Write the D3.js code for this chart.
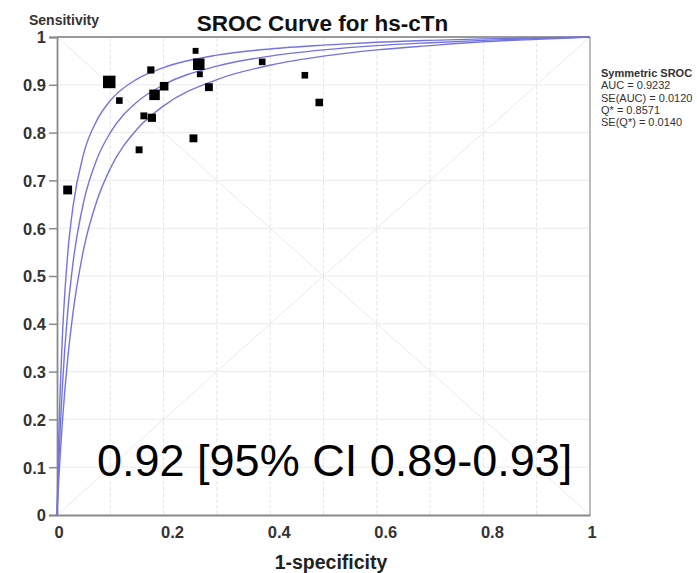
<!DOCTYPE html>
<html>
<head>
<meta charset="utf-8">
<script src="https://cdn.jsdelivr.net/npm/d3@7"></script>
<style>
  html, body { margin: 0; padding: 0; background: #fff; }
  svg { display: block; font-family: "Liberation Sans", Arial, sans-serif; }
</style>
</head>
<body>
<svg id="chart" width="697" height="573"></svg>
<script>
// ---------- data ----------
const title = "SROC Curve for hs-cTn";
const yTitle = "Sensitivity";
const xTitle = "1-specificity";
const annotation = "0.92 [95% CI 0.89-0.93]";
const legendTitle = "Symmetric SROC";
const legendLines = ["AUC = 0.9232", "SE(AUC) = 0.0120", "Q* = 0.8571", "SE(Q*) = 0.0140"];

const xTicks = [0, 0.2, 0.4, 0.6, 0.8, 1];
const yTicks = [0, 0.1, 0.2, 0.3, 0.4, 0.5, 0.6, 0.7, 0.8, 0.9, 1];
const gridValues = [0.1, 0.2, 0.3, 0.4, 0.5, 0.6, 0.7, 0.8, 0.9];

// study points: 1-specificity, sensitivity, weight
const studyFpr  = [0.020, 0.098, 0.117, 0.176, 0.154, 0.163, 0.178, 0.183, 0.201, 0.260, 0.266, 0.268, 0.285, 0.256, 0.385, 0.465, 0.492];
const studySens = [0.680, 0.906, 0.867, 0.931, 0.764, 0.835, 0.831, 0.879, 0.897, 0.971, 0.943, 0.922, 0.895, 0.788, 0.948, 0.920, 0.863];
const studyWeight = [81, 161, 45, 53, 49, 49, 69, 114, 76, 36, 137, 36, 64, 64, 45, 45, 59];

// SROC curve (centre) and its two bounds
const curveFpr   = [0, 0.001, 0.003, 0.006, 0.01, 0.02, 0.03, 0.05, 0.075, 0.1, 0.15, 0.2, 0.3, 0.4, 0.5, 0.6, 0.7, 0.8, 0.9, 1];
const curveUpper = [0, 0.056, 0.150, 0.262, 0.372, 0.545, 0.645, 0.756, 0.826, 0.867, 0.912, 0.936, 0.962, 0.975, 0.983, 0.989, 0.993, 0.996, 0.998, 1];
const curveMid   = [0, 0.035, 0.098, 0.179, 0.267, 0.424, 0.527, 0.655, 0.745, 0.800, 0.864, 0.900, 0.939, 0.960, 0.973, 0.982, 0.988, 0.993, 0.997, 1];
const curveLower = [0, 0.023, 0.067, 0.125, 0.193, 0.326, 0.423, 0.556, 0.658, 0.725, 0.807, 0.856, 0.911, 0.941, 0.960, 0.973, 0.982, 0.990, 0.995, 1];

// ---------- layout ----------
const svg = d3.select("#chart");
const L = 57, R = 590, T = 37, B = 515;
const x = d3.scaleLinear().domain([0, 1]).range([L, R]);
const y = d3.scaleLinear().domain([0, 1]).range([B, T]);
const size = d3.scaleSqrt().domain([0, d3.max(studyWeight)]).range([0, 12.5]);

// grid
const grid = svg.append("g");
grid.selectAll("line.h").data(gridValues).join("line")
  .attr("x1", L).attr("x2", R)
  .attr("y1", d => y(d)).attr("y2", d => y(d))
  .attr("stroke", "#ebebeb").attr("stroke-width", 1);
grid.selectAll("line.v").data(gridValues).join("line")
  .attr("y1", T).attr("y2", B)
  .attr("x1", d => x(d)).attr("x2", d => x(d))
  .attr("stroke", "#e6e6e6").attr("stroke-width", 1)
  .attr("stroke-dasharray", "4,2");
// diagonals
grid.append("line").attr("x1", x(0)).attr("y1", y(1)).attr("x2", x(1)).attr("y2", y(0))
  .attr("stroke", "#eaeaea").attr("stroke-width", 1);
grid.append("line").attr("x1", x(0)).attr("y1", y(0)).attr("x2", x(1)).attr("y2", y(1))
  .attr("stroke", "#eaeaea").attr("stroke-width", 1);

// frame top/right
svg.append("line").attr("x1", L).attr("x2", R).attr("y1", T).attr("y2", T)
  .attr("stroke", "#9a9a9a").attr("stroke-width", 1.8);
svg.append("line").attr("x1", R).attr("x2", R).attr("y1", T).attr("y2", B)
  .attr("stroke", "#a8a8a8").attr("stroke-width", 1.5);

// axes
const yAxis = svg.append("g").attr("transform", `translate(${L},0)`)
  .call(d3.axisLeft(y).tickValues(yTicks).tickFormat(d3.format("~g")).tickSize(8).tickPadding(3));
const xAxis = svg.append("g").attr("transform", `translate(0,${B})`)
  .call(d3.axisBottom(x).tickValues(xTicks).tickFormat(d3.format("~g")).tickSize(0).tickPadding(11));
[yAxis, xAxis].forEach(a => {
  a.select(".domain").attr("stroke", "#8a8a8a").attr("stroke-width", 1.8);
  a.selectAll(".tick line").attr("stroke", "#8a8a8a").attr("stroke-width", 1.5);
  a.selectAll(".tick text").attr("fill", "#333").attr("font-size", 16.5)
    .attr("font-weight", "bold").attr("font-family", "Liberation Sans, Arial, sans-serif");
});
yAxis.selectAll(".tick text").attr("dy", "0.36em");
xAxis.selectAll(".tick text").attr("text-anchor", "start").attr("dx", -3).attr("dy", "0.72em");

// curves
const line = d3.line().x(d => x(d[0])).y(d => y(d[1])).curve(d3.curveMonotoneX);
[curveUpper, curveMid, curveLower].forEach(c => {
  svg.append("path")
    .datum(curveFpr.map((f, i) => [f, c[i]]))
    .attr("d", line)
    .attr("fill", "none")
    .attr("stroke", "#7474e0")
    .attr("stroke-width", 1.4);
});

// points
svg.append("g").selectAll("rect").data(studyFpr.map((f, i) => ({f, s: studySens[i], w: studyWeight[i]})))
  .join("rect")
  .attr("x", d => x(d.f) - size(d.w) / 2)
  .attr("y", d => y(d.s) - size(d.w) / 2)
  .attr("width", d => size(d.w))
  .attr("height", d => size(d.w))
  .attr("fill", "#000");

// titles
svg.append("text").attr("x", 322.5).attr("y", 31).attr("text-anchor", "middle")
  .attr("font-size", 22.5).attr("font-weight", "bold").attr("fill", "#111").text(title);
svg.append("text").attr("x", 29).attr("y", 25)
  .attr("font-size", 14).attr("font-weight", "bold").attr("fill", "#333").text(yTitle);
svg.append("text").attr("x", 331).attr("y", 569).attr("text-anchor", "middle")
  .attr("font-size", 19.5).attr("font-weight", "bold").attr("fill", "#222").text(xTitle);

// annotation
svg.append("text").attr("x", 97).attr("y", 476)
  .attr("font-size", 45).attr("fill", "#000").text(annotation);

// legend
const lg = svg.append("g").attr("transform", "translate(601,77)");
lg.append("text").attr("font-size", 11).attr("font-weight", "bold").attr("fill", "#333").text(legendTitle);
lg.selectAll("text.l").data(legendLines).join("text")
  .attr("y", (d, i) => 12.3 * (i + 1))
  .attr("font-size", 11).attr("fill", "#333").text(d => d);
</script>
</body>
</html>
